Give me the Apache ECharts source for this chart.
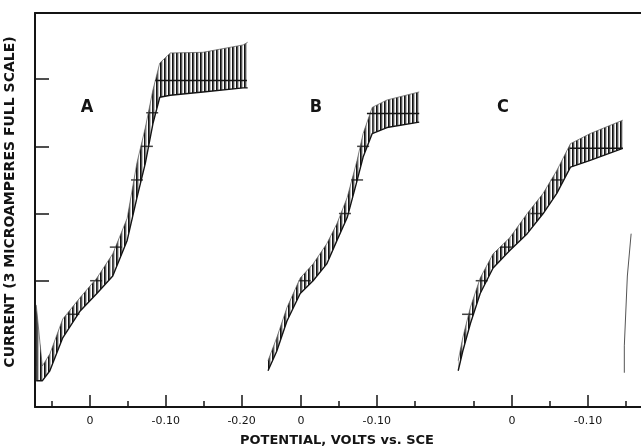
<!DOCTYPE html>
<html>
<head>
<meta charset="utf-8">
<script src="https://cdn.jsdelivr.net/npm/echarts@6/dist/echarts.min.js"></script>
<style>
  html, body { margin: 0; padding: 0; background: #fff; }
  #chart { width: 641px; height: 447px; }
</style>
</head>
<body>
<div id="chart"></div>
<script>
// potentials are plotted as -V (more negative to the right), current in arbitrary chart units
const potA = [-0.071, -0.063, -0.053, -0.036, -0.013, 0.009, 0.030, 0.049, 0.062, 0.073, 0.083, 0.092, 0.106, 0.149, 0.202, 0.208];
const lowA = [-0.49, -0.49, -0.34, 0.15, 0.55, 0.81, 1.07, 1.60, 2.24, 2.75, 3.34, 3.73, 3.76, 3.81, 3.87, 3.87];
const highA = [0.64, -0.27, -0.09, 0.43, 0.75, 1.04, 1.40, 1.93, 2.76, 3.28, 3.84, 4.24, 4.39, 4.40, 4.51, 4.55];

const potB = [-0.0435, -0.032, -0.0185, -0.001, 0.016, 0.034, 0.0475, 0.061, 0.074, 0.082, 0.094, 0.1135, 0.156];
const lowB = [-0.34, -0.05, 0.40, 0.81, 1.00, 1.25, 1.60, 1.94, 2.49, 2.84, 3.19, 3.28, 3.36];
const highB = [-0.19, 0.15, 0.60, 1.04, 1.25, 1.55, 1.85, 2.24, 2.79, 3.19, 3.58, 3.69, 3.81];

const potC = [-0.071, -0.065, -0.055, -0.042, -0.025, -0.003, 0.020, 0.041, 0.059, 0.077, 0.103, 0.146];
const lowC = [-0.34, -0.05, 0.36, 0.81, 1.19, 1.45, 1.70, 2.00, 2.30, 2.69, 2.79, 2.97];
const highC = [-0.19, 0.15, 0.60, 1.04, 1.40, 1.64, 2.00, 2.30, 2.64, 3.04, 3.19, 3.39];

const potD = [0.148, 0.148, 0.152, 0.157];
const curD = [-0.37, 0.03, 1.07, 1.70];

// horizontal pen marks where each trace crosses the chart-paper levels
const crossPotA = [-0.022, 0.008, 0.034, 0.062, 0.075, 0.082];
const crossCurA = [0.5, 1.0, 1.5, 2.5, 3.0, 3.5];
const crossPotB = [0.005, 0.058, 0.074, 0.082];
const crossCurB = [1.0, 2.0, 2.5, 3.0];
const crossPotC = [-0.058, -0.040, -0.007, 0.032, 0.059];
const crossCurC = [0.5, 1.0, 1.5, 2.0, 2.5];

const plateauPot = [[0.086, 0.207], [0.087, 0.156], [0.076, 0.146]];
const plateauLevel = [3.98, 3.49, 2.97];

const yTicks = [1, 2, 3, 4];
const majorA = [0, 0.10, 0.20], minorA = [-0.05, 0.05, 0.15];
const majorB = [0, 0.10], minorB = [0.05, 0.15];
const majorC = [0, 0.10], minorC = [-0.05, 0.05, 0.15];
const curveNames = ['A', 'B', 'C'];

const ink = '#141414';

// vertical hatching stands in for the drop-time oscillations
const hatch = document.createElement('canvas');
hatch.width = 4; hatch.height = 4;
const hctx = hatch.getContext('2d');
hctx.fillStyle = '#111';
hctx.fillRect(0, 0, 1, 4);
hctx.fillStyle = '#555';
hctx.fillRect(1, 0, 1, 4);
hctx.fillStyle = '#bbb';
hctx.fillRect(2, 0, 1, 4);

const grids = [
  { left: 35, top: 13, width: 223, bottom: 40 },
  { left: 258, top: 13, width: 187, bottom: 40 },
  { left: 445, top: 13, right: 0, bottom: 40 }
];
const ranges = [[-0.0726, 0.2216], [-0.0567, 0.19], [-0.0884, 0.170]];
const majors = [majorA, majorB, majorC];
const minors = [minorA, minorB, minorC];

const fmt = v => Math.abs(v) < 1e-9 ? '0' : '-' + v.toFixed(2);

const xAxis = [];
grids.forEach((g, i) => {
  const base = { type: 'value', gridIndex: i, min: ranges[i][0], max: ranges[i][1], splitLine: { show: false }, z: 10 };
  xAxis.push(Object.assign({}, base, {
    position: 'bottom',
    axisLine: { show: true, onZero: false, lineStyle: { color: ink, width: 2 } },
    axisTick: { show: true, inside: true, length: 12, customValues: majors[i], lineStyle: { color: ink, width: 1.5 } },
    axisLabel: { show: true, customValues: majors[i], formatter: fmt, margin: 9, color: ink, fontSize: 11, fontFamily: 'DejaVu Sans' }
  }));
  xAxis.push(Object.assign({}, base, {
    position: 'bottom',
    axisLine: { show: false, onZero: false },
    axisTick: { show: true, inside: true, length: 6, customValues: minors[i], lineStyle: { color: ink, width: 1.5 } },
    axisLabel: { show: false }
  }));
  xAxis.push(Object.assign({}, base, {
    position: 'top',
    axisLine: { show: true, onZero: false, lineStyle: { color: ink, width: 2 } },
    axisTick: { show: false },
    axisLabel: { show: false }
  }));
});

const yAxis = grids.map((g, i) => ({
  type: 'value', gridIndex: i, min: -0.88, max: 4.985, z: 10,
  show: i === 0,
  splitLine: { show: false },
  axisLine: { show: true, onZero: false, lineStyle: { color: ink, width: 2 } },
  axisTick: { show: true, inside: true, length: 14, customValues: yTicks, lineStyle: { color: ink, width: 1.5 } },
  axisLabel: { show: false },
  name: i === 0 ? 'CURRENT (3 MICROAMPERES FULL SCALE)' : '',
  nameLocation: 'middle', nameRotate: 90, nameGap: 18,
  nameTextStyle: { color: ink, fontSize: 14, fontWeight: 'bold', fontFamily: 'DejaVu Sans', padding: [0, 0, 0, 16] }
}));

const curves = [[potA, lowA, highA], [potB, lowB, highB], [potC, lowC, highC]];
const crosses = [[crossPotA, crossCurA], [crossPotB, crossCurB], [crossPotC, crossCurC]];
const series = [];
curves.forEach((c, i) => {
  const [pot, low, high] = c;
  // hatched band between the two envelopes, one quad per pair of readings
  series.push({
    name: curveNames[i] + ' band', type: 'custom', xAxisIndex: i * 3, yAxisIndex: i,
    data: pot.map((p, k) => [p, low[k], high[k]]),
    renderItem: (params, api) => {
      const k = params.dataIndex;
      if (k >= pot.length - 1) return null;
      const pts = [
        api.coord([pot[k], low[k]]), api.coord([pot[k + 1], low[k + 1]]),
        api.coord([pot[k + 1], high[k + 1]]), api.coord([pot[k], high[k]])
      ];
      return { type: 'polygon', shape: { points: pts }, style: { fill: { image: hatch, repeat: 'repeat' }, stroke: null } };
    },
    z: 1
  });
  series.push({
    name: curveNames[i] + ' low', type: 'line', xAxisIndex: i * 3, yAxisIndex: i,
    symbol: 'none', lineStyle: { color: ink, width: 1.4 },
    data: pot.map((p, k) => [p, low[k]])
  });
  series.push({
    name: curveNames[i] + ' high', type: 'line', xAxisIndex: i * 3, yAxisIndex: i,
    symbol: 'none', lineStyle: { color: '#555', width: 0.7 },
    data: pot.map((p, k) => [p, high[k]])
  });
  series.push({
    name: curveNames[i] + ' plateau', type: 'line', xAxisIndex: i * 3, yAxisIndex: i,
    symbol: 'none', lineStyle: { color: ink, width: 1.5 },
    data: plateauPot[i].map(p => [p, plateauLevel[i]])
  });
  series.push({
    name: curveNames[i] + ' marks', type: 'scatter', xAxisIndex: i * 3, yAxisIndex: i,
    symbol: 'rect', symbolSize: [12, 1.5], itemStyle: { color: ink },
    data: crosses[i][0].map((p, k) => [p, crosses[i][1][k]])
  });
});
series.push({
  name: 'D', type: 'line', xAxisIndex: 6, yAxisIndex: 2, symbol: 'none',
  lineStyle: { color: '#555', width: 1 },
  data: potD.map((p, k) => [p, curD[k]])
});

const letterPos = [[87, 107], [316, 107], [503, 107]];

const chart = echarts.init(document.getElementById('chart'), null, { renderer: 'canvas' });
chart.setOption({
  animation: false,
  backgroundColor: '#fff',
  title: {
    text: 'POTENTIAL, VOLTS vs. SCE', left: 332, top: 429, textAlign: 'center',
    textStyle: { color: ink, fontSize: 13, fontWeight: 'bold', fontFamily: 'DejaVu Sans' }
  },
  grid: grids,
  xAxis: xAxis,
  yAxis: yAxis,
  series: series,
  graphic: curveNames.map((n, i) => ({
    type: 'text', x: letterPos[i][0], y: letterPos[i][1],
    style: { text: n, fill: ink, fontSize: 18, fontWeight: 'bold', fontFamily: 'Liberation Sans Narrow, DejaVu Sans Condensed, sans-serif', align: 'center', verticalAlign: 'middle' }
  }))
});
</script>
</body>
</html>
